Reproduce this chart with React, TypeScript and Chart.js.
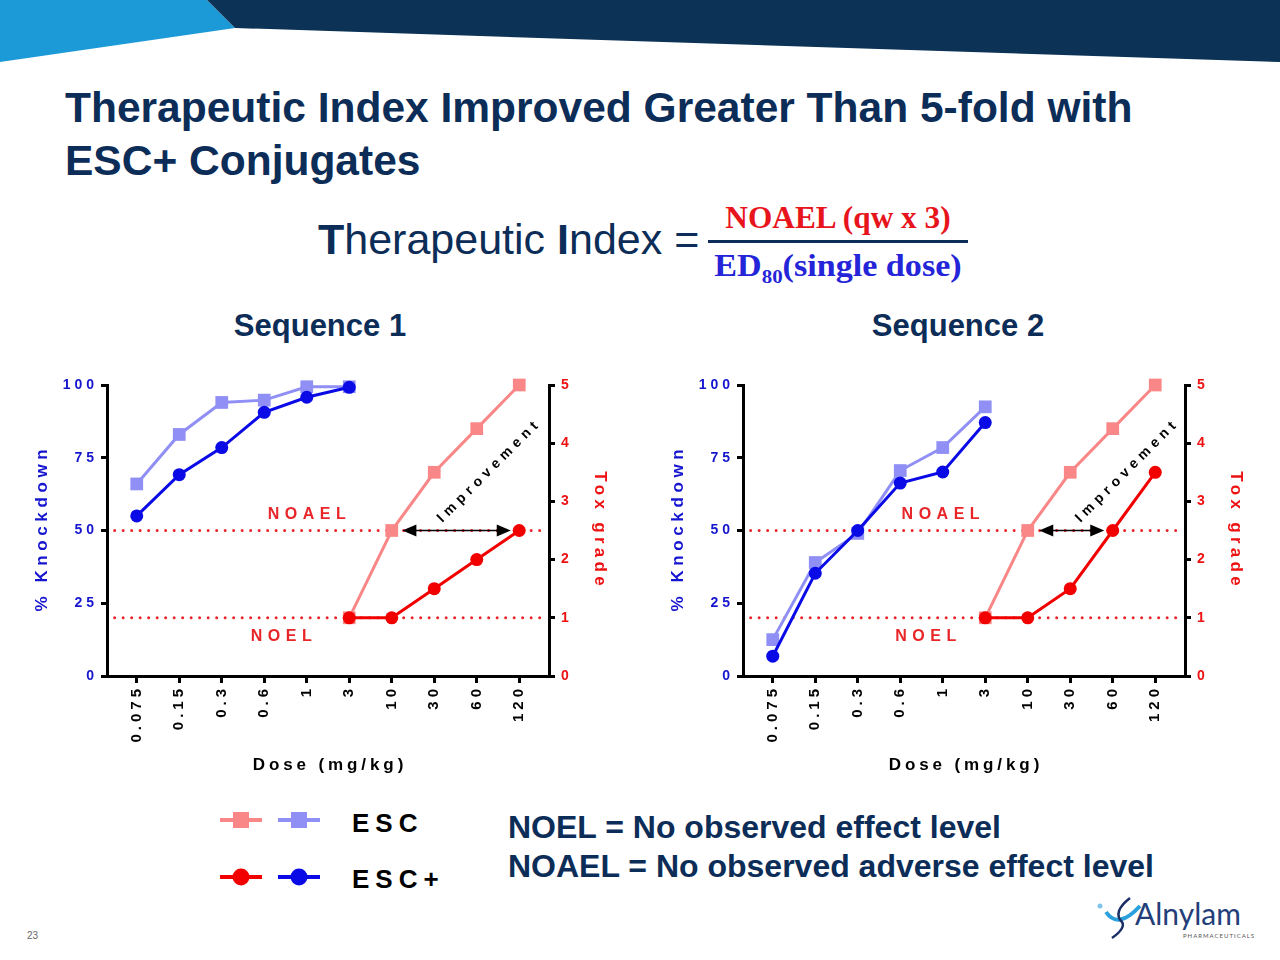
import React, { useEffect, useRef } from 'react';
import { Chart, registerables } from 'chart.js';

Chart.register(...registerables);

// ---------------- data ----------------
const DOSES = ['0.075', '0.15', '0.3', '0.6', '1', '3', '10', '30', '60', '120'];
const KD_DOSE_INDEX = [0, 1, 2, 3, 4, 5];
const TOX_DOSE_INDEX = [5, 6, 7, 8, 9];
const KD_TICKS = [0, 25, 50, 75, 100];
const TOX_TICKS = [0, 1, 2, 3, 4, 5];

const SEQ1_KD_ESC = [66, 83, 94, 94.8, 99.4, 99.4];
const SEQ1_KD_ESC_PLUS = [55, 69.2, 78.5, 90.6, 95.8, 99.2];
const SEQ1_TOX_ESC = [1, 2.5, 3.5, 4.25, 5];
const SEQ1_TOX_ESC_PLUS = [1, 1, 1.5, 2, 2.5];

const SEQ2_KD_ESC = [12.5, 39, 49, 70.6, 78.5, 92.5];
const SEQ2_KD_ESC_PLUS = [6.8, 35.3, 50, 66.3, 70.1, 87.1];
const SEQ2_TOX_ESC = [1, 2.5, 3.5, 4.25, 5];
const SEQ2_TOX_ESC_PLUS = [1, 1, 1.5, 2.5, 3.5];

const NOAEL_GRADE = 2.5;
const NOEL_GRADE = 1;

// ---------------- styles ----------------
const FONT = "'Liberation Sans', Arial, Helvetica, sans-serif";
const NAVY = '#0c2d57';
const C_ESC_RED = '#f98787';
const C_ESC_BLUE = '#8f8ff5';
const C_PLUS_RED = '#f20000';
const C_PLUS_BLUE = '#0a0ae6';
const C_DOT_RED = '#e8262a';
const C_TICK_BLUE = '#1515d0';
const C_TICK_RED = '#ee1111';

type PanelCfg = {
  kdEsc: number[];
  kdEscPlus: number[];
  toxEsc: number[];
  toxEscPlus: number[];
  arrow: [number, number];
  improveAt: number;
  noaelAt: number;
  noelAt: number;
};

function spacedText(
  ctx: CanvasRenderingContext2D,
  text: string,
  x: number,
  y: number,
  font: string,
  color: string,
  spacing: number,
  rotation: number,
  align: CanvasTextAlign = 'center',
  baseline: CanvasTextBaseline = 'middle'
) {
  ctx.save();
  ctx.translate(x, y);
  ctx.rotate(rotation);
  ctx.font = font;
  ctx.fillStyle = color;
  (ctx as any).letterSpacing = spacing + 'px';
  ctx.textAlign = align;
  ctx.textBaseline = baseline;
  const dx = align === 'center' ? spacing / 2 : 0;
  ctx.fillText(text, dx, 0);
  ctx.restore();
}

function Panel({ cfg, left, top }: { cfg: PanelCfg; left: number; top: number }) {
  const ref = useRef<HTMLCanvasElement | null>(null);

  useEffect(() => {
    const canvas = ref.current;
    if (!canvas) return;

    const spacingPlugin = {
      id: 'spacing',
      beforeLayout(chart: any) {
        chart.ctx.letterSpacing = '4px';
      },
      beforeDraw(chart: any) {
        chart.ctx.letterSpacing = '4px';
      },
    };

    const annoPlugin = {
      id: 'anno',
      afterDatasetsDraw(chart: any) {
        const ctx: CanvasRenderingContext2D = chart.ctx;
        const xs = chart.scales.x;
        const y2 = chart.scales.y2;
        const yk = chart.scales.y;
        const yA = y2.getPixelForValue(NOAEL_GRADE);
        const x1 = xs.getPixelForValue(cfg.arrow[0]);
        const x2 = xs.getPixelForValue(cfg.arrow[1]);
        ctx.save();
        (ctx as any).letterSpacing = '0px';
        ctx.strokeStyle = '#000';
        ctx.fillStyle = '#000';
        ctx.lineWidth = 1.5;
        const head = 14;
        const hw = 6;
        ctx.beginPath();
        ctx.moveTo(x1 + head - 2, yA);
        ctx.lineTo(x2 - head + 2, yA);
        ctx.stroke();
        ctx.beginPath();
        ctx.moveTo(x1, yA);
        ctx.lineTo(x1 + head, yA - hw);
        ctx.lineTo(x1 + head, yA + hw);
        ctx.closePath();
        ctx.fill();
        ctx.beginPath();
        ctx.moveTo(x2, yA);
        ctx.lineTo(x2 - head, yA - hw);
        ctx.lineTo(x2 - head, yA + hw);
        ctx.closePath();
        ctx.fill();
        ctx.restore();

        const ca = chart.chartArea;
        const midY = (ca.top + ca.bottom) / 2;
        const bold17 = `bold 17px ${FONT}`;
        const bold16 = `bold 16px ${FONT}`;
        spacedText(ctx, '% Knockdown', ca.left - 65, midY, bold17, C_TICK_BLUE, 4.6, -Math.PI / 2);
        spacedText(ctx, 'Tox grade', ca.right + 51, midY - 2, bold17, C_TICK_RED, 4.3, Math.PI / 2);
        spacedText(ctx, 'Dose (mg/kg)', (ca.left + ca.right) / 2, ca.bottom + 89, bold17, '#000', 3.9, 0);
        spacedText(ctx, 'NOAEL', xs.getPixelForValue(cfg.noaelAt) - 3, yk.getPixelForValue(55.3), bold16, C_DOT_RED, 5.5, 0);
        spacedText(ctx, 'NOEL', xs.getPixelForValue(cfg.noelAt), yk.getPixelForValue(13.4), bold16, C_DOT_RED, 5.5, 0);
        spacedText(
          ctx,
          'Improvement',
          xs.getPixelForValue(cfg.improveAt) + 3,
          y2.getPixelForValue(2.63),
          `bold 14px ${FONT}`,
          '#000',
          4.8,
          -Math.PI / 4,
          'left',
          'alphabetic'
        );
      },
    };

    const kdPts = (vals: number[]) => vals.map((v, i) => ({ x: KD_DOSE_INDEX[i], y: v }));
    const toxPts = (vals: number[]) => vals.map((v, i) => ({ x: TOX_DOSE_INDEX[i], y: v }));

    const series = (label: string, data: any[], color: string, axis: string, style: string) => ({
      label,
      data,
      yAxisID: axis,
      borderColor: color,
      backgroundColor: color,
      borderWidth: 3,
      pointStyle: style,
      pointRadius: style === 'rect' ? 9 : 6.5,
      pointBorderWidth: 0,
      pointBackgroundColor: color,
      clip: false,
      tension: 0,
    });

    const refLine = (label: string, grade: number) => ({
      label,
      data: [
        { x: -0.52, y: grade },
        { x: 9.6, y: grade },
      ],
      yAxisID: 'y2',
      borderColor: C_DOT_RED,
      borderWidth: 3,
      borderDash: [0, 8.5],
      borderCapStyle: 'round',
      pointRadius: 0,
      clip: false,
    });

    const xTickFont = { family: FONT, size: 15, weight: 'bold' as const };
    const yTickFont = { family: FONT, size: 14, weight: 'bold' as const };

    const chart = new Chart(canvas, {
      type: 'line',
      data: {
        datasets: [
          series('ESC+ knockdown', kdPts(cfg.kdEscPlus), C_PLUS_BLUE, 'y', 'circle'),
          series('ESC+ tox', toxPts(cfg.toxEscPlus), C_PLUS_RED, 'y2', 'circle'),
          series('ESC knockdown', kdPts(cfg.kdEsc), C_ESC_BLUE, 'y', 'rect'),
          series('ESC tox', toxPts(cfg.toxEsc), C_ESC_RED, 'y2', 'rect'),
          refLine('NOAEL', NOAEL_GRADE),
          refLine('NOEL', NOEL_GRADE),
        ] as any,
      },
      options: {
        animation: false,
        responsive: false,
        devicePixelRatio: 1,
        layout: { padding: { top: 15, left: 0, right: 0, bottom: 0 } },
        plugins: { legend: { display: false }, tooltip: { enabled: false } },
        scales: {
          x: {
            type: 'linear',
            position: 'bottom',
            min: -0.7,
            max: 9.7,
            afterBuildTicks: (axis: any) => {
              axis.ticks = DOSES.map((_, i) => ({ value: i }));
            },
            afterFit: (s: any) => {
              s.height = 114;
            },
            border: { display: true, color: '#000', width: 3 },
            grid: { display: true, drawOnChartArea: false, drawTicks: true, tickLength: 7, color: '#000', lineWidth: 3 },
            ticks: {
              autoSkip: false,
              minRotation: 90,
              maxRotation: 90,
              padding: 2,
              color: '#000',
              font: xTickFont,
              callback: (v: any) => DOSES[Math.round(Number(v))] ?? '',
            },
          },
          y: {
            type: 'linear',
            position: 'left',
            min: 0,
            max: 100,
            afterBuildTicks: (axis: any) => {
              axis.ticks = KD_TICKS.map((v) => ({ value: v }));
            },
            afterFit: (s: any) => {
              s.width = 87;
            },
            border: { display: true, color: '#000', width: 3 },
            grid: { display: true, drawOnChartArea: false, drawTicks: true, tickLength: 6, color: '#000', lineWidth: 3 },
            ticks: { padding: 3, color: C_TICK_BLUE, font: yTickFont },
          },
          y2: {
            type: 'linear',
            position: 'right',
            min: 0,
            max: 5,
            afterBuildTicks: (axis: any) => {
              axis.ticks = TOX_TICKS.map((v) => ({ value: v }));
            },
            afterFit: (s: any) => {
              s.width = 91;
            },
            border: { display: true, color: '#000', width: 3 },
            grid: { display: true, drawOnChartArea: false, drawTicks: true, tickLength: 6, color: '#000', lineWidth: 3 },
            ticks: { padding: 6, color: C_TICK_RED, font: yTickFont },
          },
        },
      } as any,
      plugins: [spacingPlugin, annoPlugin],
    });

    return () => chart.destroy();
  }, [cfg]);

  return (
    <canvas
      ref={ref}
      width={620}
      height={420}
      style={{ position: 'absolute', left, top, width: 620, height: 420 }}
    />
  );
}

const SEQ1: PanelCfg = {
  kdEsc: SEQ1_KD_ESC,
  kdEscPlus: SEQ1_KD_ESC_PLUS,
  toxEsc: SEQ1_TOX_ESC,
  toxEscPlus: SEQ1_TOX_ESC_PLUS,
  arrow: [6.25, 8.8],
  improveAt: 7.12,
  noaelAt: 4.07,
  noelAt: 3.4,
};

const SEQ2: PanelCfg = {
  kdEsc: SEQ2_KD_ESC,
  kdEscPlus: SEQ2_KD_ESC_PLUS,
  toxEsc: SEQ2_TOX_ESC,
  toxEscPlus: SEQ2_TOX_ESC_PLUS,
  arrow: [6.27, 7.8],
  improveAt: 7.17,
  noaelAt: 4.02,
  noelAt: 3.6,
};

function LegendMarker({ x, y, color, shape }: { x: number; y: number; color: string; shape: 'rect' | 'circle' }) {
  return (
    <g>
      <line x1={x - 21} y1={y} x2={x + 21} y2={y} stroke={color} strokeWidth={4} />
      {shape === 'rect' ? (
        <rect x={x - 8} y={y - 8} width={16} height={16} fill={color} />
      ) : (
        <circle cx={x} cy={y} r={8.5} fill={color} />
      )}
    </g>
  );
}

const serifBold: React.CSSProperties = {
  position: 'absolute',
  left: 708,
  width: 260,
  textAlign: 'center',
  fontFamily: "'Liberation Serif', 'Times New Roman', serif",
  fontWeight: 'bold',
  fontSize: 31,
  lineHeight: '31px',
  whiteSpace: 'nowrap',
};

export default function App() {
  return (
    <div
      style={{
        position: 'absolute',
        left: 0,
        top: 0,
        width: 1280,
        height: 960,
        background: '#fff',
        overflow: 'hidden',
        fontFamily: FONT,
      }}
    >
      <svg width={1280} height={960} style={{ position: 'absolute', left: 0, top: 0 }}>
        <polygon points="0,0 207,0 235,28 0,62" fill="#1b9ad7" />
        <polygon points="207,0 1280,0 1280,62 235,28" fill="#0c3256" />
        <LegendMarker x={241} y={820} color={C_ESC_RED} shape="rect" />
        <LegendMarker x={299} y={820} color={C_ESC_BLUE} shape="rect" />
        <LegendMarker x={241} y={877} color={C_PLUS_RED} shape="circle" />
        <LegendMarker x={299} y={877} color={C_PLUS_BLUE} shape="circle" />
        {/* logo mark */}
        <circle cx={1100} cy={906} r={2.5} fill="#7fc4ea" />
        <path d="M1106 912 Q1118 930 1140 906" stroke="#2aa0dc" strokeWidth={4} fill="none" />
        <path d="M1130 898 Q1112 912 1122 922 Q1126 928 1112 938" stroke="#1b2f66" strokeWidth={2.5} fill="none" />
        <text x={1135} y={925} fontFamily="Lato, 'Open Sans', sans-serif" fontSize={30} fill="#233e78">
          Alnylam
        </text>
        <text x={1183} y={938} fontFamily="Lato, sans-serif" fontSize={6} letterSpacing={1} fill="#555">
          PHARMACEUTICALS
        </text>
      </svg>

      <div
        style={{
          position: 'absolute',
          left: 65,
          top: 81,
          fontSize: 42.5,
          lineHeight: '53px',
          fontWeight: 'bold',
          color: NAVY,
          whiteSpace: 'nowrap',
        }}
      >
        Therapeutic Index Improved Greater Than 5-fold with
        <br />
        ESC+ Conjugates
      </div>

      <div
        style={{
          position: 'absolute',
          left: 318,
          top: 218,
          fontSize: 43,
          lineHeight: '43px',
          color: NAVY,
          whiteSpace: 'nowrap',
        }}
      >
        <b>T</b>herapeutic <b>I</b>ndex =
      </div>

      <div style={{ ...serifBold, top: 202, color: '#e8141c', transform: 'scaleX(1.01)' }}>NOAEL (qw x 3)</div>
      <div style={{ position: 'absolute', left: 708, top: 240, width: 260, height: 3, background: NAVY }} />
      <div style={{ ...serifBold, top: 250, color: '#2424d8', transform: 'scaleX(1.1)' }}>
        ED<sub style={{ fontSize: 19, verticalAlign: -7 }}>80</sub>(single dose)
      </div>

      <div
        style={{
          position: 'absolute',
          left: 170,
          width: 300,
          top: 310,
          textAlign: 'center',
          fontSize: 31,
          lineHeight: '31px',
          fontWeight: 'bold',
          color: NAVY,
        }}
      >
        Sequence 1
      </div>
      <div
        style={{
          position: 'absolute',
          left: 808,
          width: 300,
          top: 310,
          textAlign: 'center',
          fontSize: 31,
          lineHeight: '31px',
          fontWeight: 'bold',
          color: NAVY,
        }}
      >
        Sequence 2
      </div>

      <Panel cfg={SEQ1} left={20} top={370} />
      <Panel cfg={SEQ2} left={656} top={370} />

      <div
        style={{
          position: 'absolute',
          left: 352,
          top: 810,
          fontSize: 26,
          lineHeight: '26px',
          fontWeight: 'bold',
          letterSpacing: 6,
          color: '#000',
        }}
      >
        ESC
      </div>
      <div
        style={{
          position: 'absolute',
          left: 352,
          top: 866,
          fontSize: 26,
          lineHeight: '26px',
          fontWeight: 'bold',
          letterSpacing: 6,
          color: '#000',
        }}
      >
        ESC+
      </div>

      <div
        style={{
          position: 'absolute',
          left: 508,
          top: 811,
          fontSize: 32,
          lineHeight: '32px',
          fontWeight: 'bold',
          color: NAVY,
          whiteSpace: 'nowrap',
        }}
      >
        NOEL = No observed effect level
      </div>
      <div
        style={{
          position: 'absolute',
          left: 508,
          top: 850,
          fontSize: 32,
          lineHeight: '32px',
          fontWeight: 'bold',
          color: NAVY,
          whiteSpace: 'nowrap',
        }}
      >
        NOAEL = No observed adverse effect level
      </div>

      <div style={{ position: 'absolute', left: 27, top: 930, fontSize: 10, color: '#666' }}>23</div>
    </div>
  );
}
